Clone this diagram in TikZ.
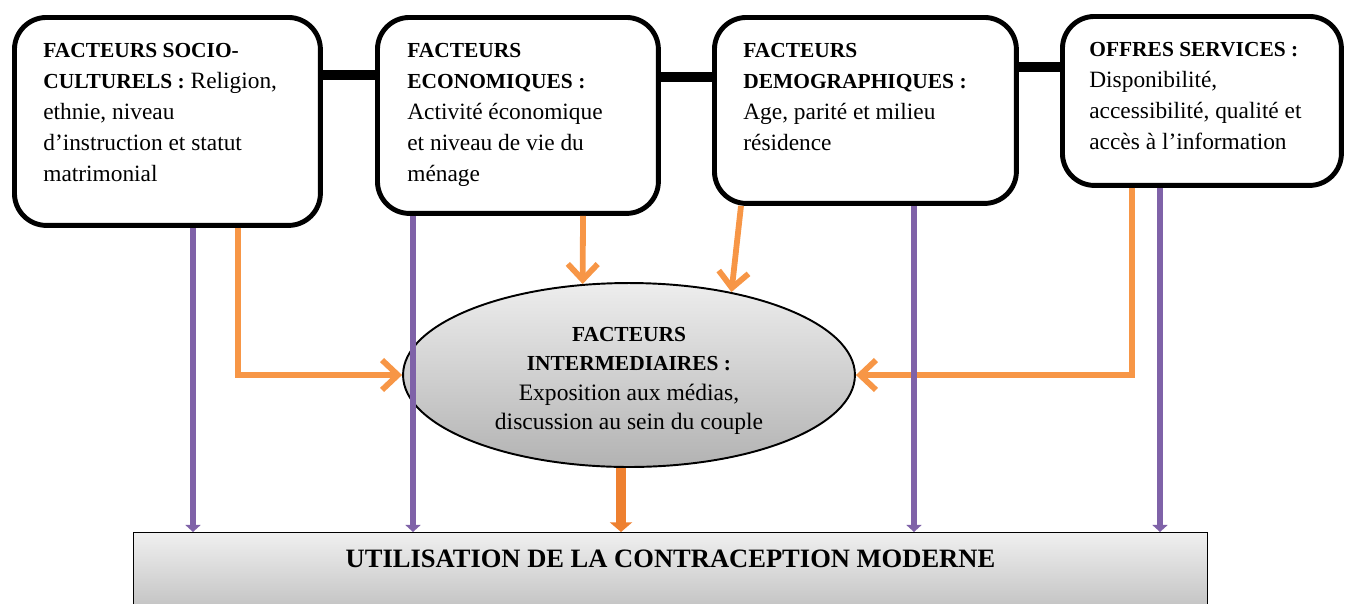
\documentclass[tikz,border=0pt]{standalone}
\usepackage{fontspec}
\setmainfont{Liberation Serif}
\usetikzlibrary{arrows.meta,shapes.geometric,positioning}
\definecolor{mauve}{HTML}{7F62A8}
\definecolor{orangeclair}{HTML}{F79646}
\definecolor{orangefonce}{HTML}{EE8030}
\newcommand\titre[1]{{\fontsize{12.2}{17.7}\selectfont\bfseries #1}}
\tikzset{
  cadre/.style={draw, line width=2.8pt, rounded corners=0.64cm, anchor=north west, inner sep=0pt},
  texte/.style={anchor=north west, inner sep=0pt, align=left, font=\fontsize{13.3}{17.7}\selectfont},
  barre/.style={line width=6pt},
  direct/.style={mauve, line width=3.6pt, -{Triangle[length=4pt,width=8.5pt]}},
  indirect/.style={orangeclair, line width=3.3pt, -{Straight Barb[length=9pt,width=17pt]}},
  sortie/.style={orangefonce, line width=6.2pt, -{Triangle[length=5.5pt,width=12.5pt]}},
  ovale/.style={ellipse, draw, line width=1.1pt, top color=black!7, bottom color=black!30,
    minimum width=9.04cm, minimum height=3.68cm, inner sep=0pt},
  ovaletexte/.style={inner sep=0pt, align=center, font=\fontsize{13.4}{16.8}\selectfont},
  socle/.style={draw, line width=0.6pt, anchor=north, minimum width=21.5cm, inner sep=0pt,
    text height=0.7cm, text depth=0.95cm, top color=black!6, bottom color=black!25,
    font=\fontsize{15.1}{18}\selectfont\bfseries}
}
\begin{document}
\begin{tikzpicture}[x=0.02cm, y=0.02cm]
\useasboundingbox (0,0) rectangle (1346,-603);
% ------ Facteurs -----------------
\node[cadre, minimum width=6.12cm, minimum height=4.16cm] (socio) at (12,-15) {};
\node[cadre, minimum width=5.62cm, minimum height=3.92cm] (eco) at (375,-15) {};
\node[cadre, minimum width=6.04cm, minimum height=3.72cm] (demo) at (712,-15) {};
\node[cadre, minimum width=5.58cm, minimum height=3.38cm] (offre) at (1060,-14) {};
\node[texte] (socioT) at ([shift={(31,-28)}]socio.north west)
  {\titre{FACTEURS SOCIO-}\\ \titre{CULTURELS :} Religion,\\ ethnie, niveau\\ d’instruction et statut\\ matrimonial};
\node[texte] (ecoT) at ([shift={(32,-28)}]eco.north west)
  {\titre{FACTEURS}\\ \titre{ECONOMIQUES :}\\ Activité économique\\ et niveau de vie du\\ ménage};
\node[texte] (demoT) at ([shift={(31,-28)}]demo.north west)
  {\titre{FACTEURS}\\ \titre{DEMOGRAPHIQUES :}\\ Age, parité et milieu\\ résidence};
\node[texte] (offreT) at ([shift={(29,-28)}]offre.north west)
  {\titre{OFFRES SERVICES :}\\ Disponibilité,\\ accessibilité, qualité et\\ accès à l’information};
\draw[barre] (socio.east |- 0,-75) -- (eco.west |- 0,-75);
\draw[barre] (eco.east |- 0,-77) -- (demo.west |- 0,-77);
\draw[barre] (demo.east |- 0,-67) -- (offre.west |- 0,-67);
% ------ Intermediaires et utilisation -----------------
\node[ovale] (inter) at (629,-375) {};
\node[ovaletexte] (interT) at ([yshift=-0.12cm]inter.center)
  {\titre{FACTEURS}\\ \titre{INTERMEDIAIRES :}\\ Exposition aux médias,\\ discussion au sein du couple};
\node[socle] (util) at (670.5,-532) {UTILISATION DE LA CONTRACEPTION MODERNE};
\draw[indirect] (socio.south -| 238,0) |- (inter.west);
\draw[indirect] (eco.south -| 583,0) -- (inter.117);
\draw[indirect] (demo.south -| 741,0) -- (inter.39);
\draw[indirect] (offre.south -| 1132,0) |- (inter.east);
\draw[sortie] ([xshift=-0.16cm]inter.south) -- ([xshift=-0.16cm]inter.south |- util.north);
\draw[direct] (socio.south -| 193,0) -- (util.north -| 193,0);
\draw[direct] (eco.south -| 413,0) -- (util.north -| 413,0);
\draw[direct] (demo.south -| 914,0) -- (util.north -| 914,0);
\draw[direct] (offre.south -| 1160,0) -- (util.north -| 1160,0);
\end{tikzpicture}
\end{document}
